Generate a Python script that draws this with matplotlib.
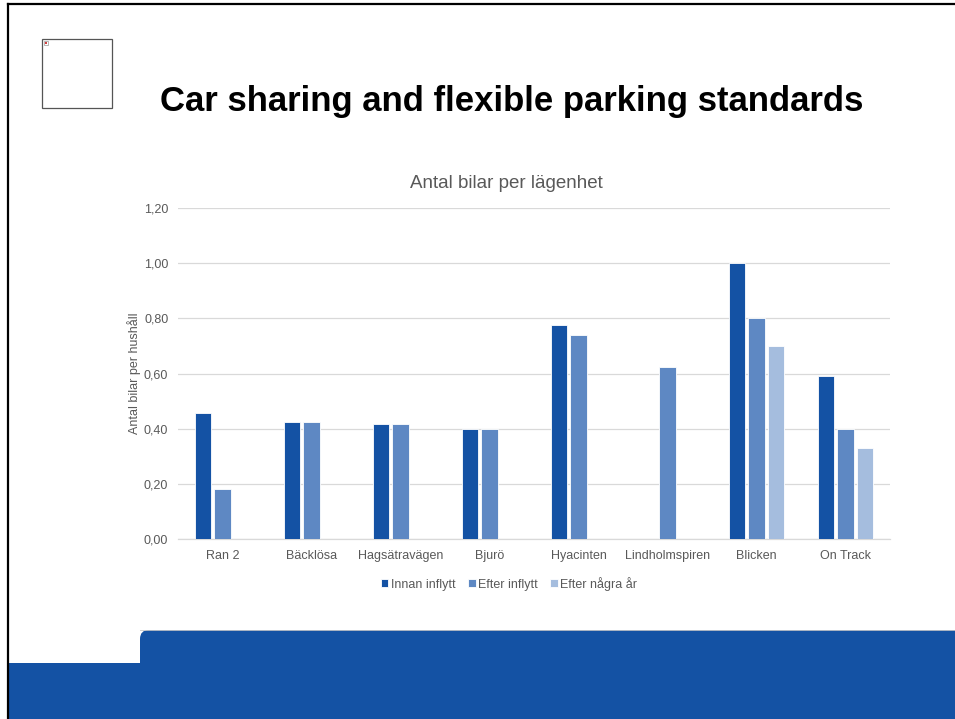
import numpy as np
import matplotlib.pyplot as plt
from matplotlib.patches import Rectangle, FancyBboxPatch

plt.rcParams['font.family'] = ['Liberation Sans', 'DejaVu Sans']

kategorier = ['Ran 2', 'Bäcklösa', 'Hagsätravägen', 'Bjurö', 'Hyacinten',
              'Lindholmspiren', 'Blicken', 'On Track']
innan = [0.455, 0.423, 0.417, 0.40, 0.775, np.nan, 1.00, 0.59]
efter = [0.18, 0.423, 0.417, 0.40, 0.74, 0.623, 0.80, 0.40]
efter_ar = [np.nan, np.nan, np.nan, np.nan, np.nan, np.nan, 0.70, 0.33]
serier = ['Innan inflytt', 'Efter inflytt', 'Efter några år']
yticks = [0.0, 0.2, 0.4, 0.6, 0.8, 1.0, 1.2]

W, H = 955, 719
fig = plt.figure(figsize=(W / 100, H / 100), dpi=100)

# slide background: border, placeholder picture, footer shape
bg = fig.add_axes([0, 0, 1, 1])
bg.set_xlim(0, W)
bg.set_ylim(H, 0)
bg.axis('off')
blue = '#1452A4'
bg.add_patch(FancyBboxPatch((140, 630), W, 120, boxstyle='round,pad=0,rounding_size=9',
                            fc=blue, ec='none'))
bg.add_patch(Rectangle((8, 663), 150, 60, fc=blue, ec='none'))
bg.plot([140, W], [630, 630], color='#c8c8c8', lw=0.6)
bg.plot([8, W], [4, 4], color='black', lw=1.6)
bg.plot([8, 8], [4, H], color='black', lw=1.6)
bg.add_patch(Rectangle((42, 39), 70, 69, fc='white', ec='#555555', lw=0.9))
bg.add_patch(Rectangle((44, 41), 4, 4, fc='white', ec='#999999', lw=0.5))
bg.add_patch(Rectangle((45.3, 42.3), 1.5, 1.5, fc='#d04040', ec='none'))

bg.text(512, 102, 'Car sharing and flexible parking standards', fontsize=25,
        fontweight='bold', ha='center', va='center', color='black')
bg.text(506, 183, 'Antal bilar per lägenhet', fontsize=13.5, color='#595959',
        ha='center', va='center')

# chart
ax = fig.add_axes([178 / W, (H - 539) / H, 712 / W, 331 / H])
ax.patch.set_alpha(0)
x = np.arange(len(kategorier))
farger = ['#1452A4', '#5E88C3', '#A5BDDE']
offs = [-0.22, 0.0, 0.22]
for vals, off, c, namn in zip([innan, efter, efter_ar], offs, farger, serier):
    ax.bar(x + off, vals, width=0.185, color=c, edgecolor='white', linewidth=0.6,
           label=namn, zorder=3)

ax.set_xlim(-0.5, len(kategorier) - 0.5)
ax.set_ylim(0, 1.2)
ax.set_yticks(yticks)
ax.set_yticklabels([f'{v:.2f}'.replace('.', ',') for v in yticks])
ax.set_xticks(x)
ax.set_xticklabels(kategorier)
ax.tick_params(length=0, labelsize=9, colors='#595959', pad=8)
ax.tick_params(axis='y', pad=7)
ax.grid(axis='y', color='#D9D9D9', lw=0.9, zorder=0)
for s in ['top', 'right', 'left']:
    ax.spines[s].set_visible(False)
ax.spines['bottom'].set_color('#D9D9D9')
ax.spines['bottom'].set_linewidth(0.9)
ax.set_ylabel('Antal bilar per hushåll', fontsize=9, color='#595959')
ax.yaxis.set_label_coords((141 - 178) / 712, 0.5)

leg = ax.legend(loc='upper center', bbox_to_anchor=(0.465, -0.08), ncol=3, frameon=False,
                fontsize=9, handlelength=0.6, handleheight=0.6, handletextpad=0.2,
                columnspacing=1.0)
for t in leg.get_texts():
    t.set_color('#595959')

fig.savefig('out.png', dpi=100)
